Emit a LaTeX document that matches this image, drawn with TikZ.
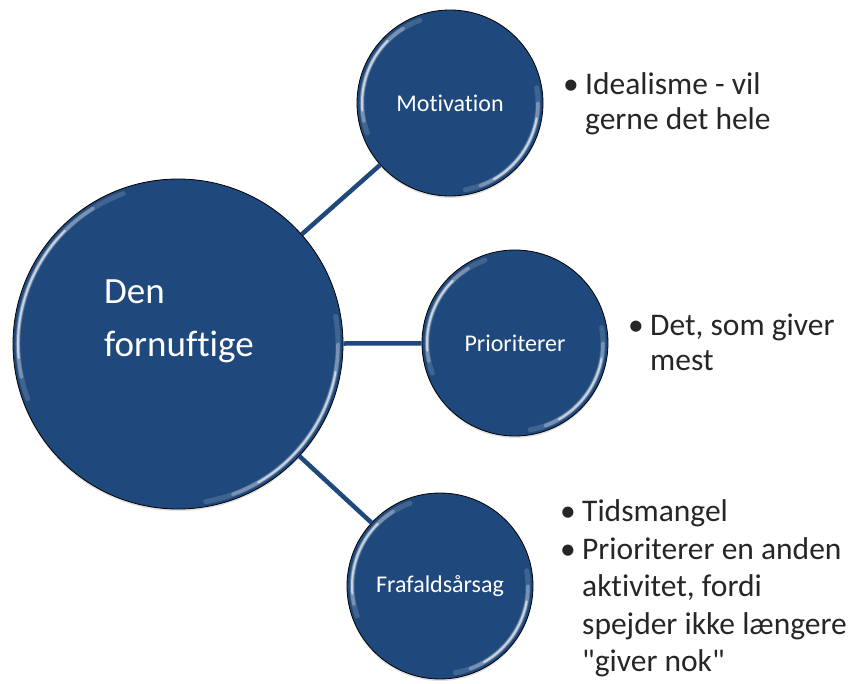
\documentclass[tikz,border=0pt]{standalone}
\usepackage{fontspec}
\setmainfont{Carlito}[Ligatures={TeXOff,NoCommon}]
\usetikzlibrary{shadows}

\definecolor{ballblue}{HTML}{1F497D}
\definecolor{punkttekst}{HTML}{262626}
\newlength\punkt
\setlength{\punkt}{22pt}

\tikzset{
  ball/.style={circle, draw=black, line width=0.8pt, fill=ballblue, text=white,
    inner sep=0pt, minimum size=#1,
    drop shadow={opacity=.25, shadow xshift=0pt, shadow yshift=-2pt}},
  glans/.style={white, line cap=round},
  eger/.style={ballblue, line width=4.5pt},
  punkter/.style={anchor=base west, inner sep=0pt, text=punkttekst},
  smalltext/.style={font=\fontsize{24}{29}\selectfont}
}

\begin{document}
\begin{tikzpicture}[x=1pt,y=1pt]
\useasboundingbox (0,0) rectangle (855,-684);

% circles
\node[ball=330pt] (den) at (178,-344) {};
\node[ball=186pt, smalltext] (motiv) at (450,-103) {Motivation};
\node[ball=186pt, smalltext] (prio) at (515,-343) {Prioriterer};
\node[ball=186pt, smalltext] (frafald) at (440,-586) {Frafaldsårsag};

% rim highlights
\foreach \n/\r in {den/160, motiv/88, prio/88, frafald/88} {
  \foreach \a/\b/\o/\w in {110/200/.15/5, 122/192/.3/3.5, 135/185/.6/2} {
    \draw[glans, opacity=\o, line width=\w pt] ([shift={(\a:\r pt)}]\n.center)
      arc[start angle=\a, end angle=\b, radius=\r pt];
  }
  \foreach \a/\b/\o/\w in {-80/10/.15/5, -70/0/.3/3.5, -60/-10/.6/2} {
    \draw[glans, opacity=\o, line width=\w pt] ([shift={(\a:\r pt)}]\n.center)
      arc[start angle=\a, end angle=\b, radius=\r pt];
  }
}

\node[anchor=base west, inner sep=0pt, text=white, font=\fontsize{37}{53}\selectfont]
  (dentekst) at (104,-304)
  {\begin{tabular}[t]{@{}l@{}}Den\\fornuftige\end{tabular}};

% spokes
\draw[eger] (den) -- (motiv);
\draw[eger] (den) -- (prio);
\draw[eger] (den) -- (frafald);

% bullet lists
\node[punkter, font=\fontsize{31.5}{35}\selectfont] (idealisme) at (563,-95)
  {\begin{tabular}[t]{@{}p{\punkt}@{}l@{}}
  \textbullet & Idealisme - vil\\
   & gerne det hele
  \end{tabular}};
\node[punkter, font=\fontsize{31.5}{35}\selectfont] (giver) at (628,-336)
  {\begin{tabular}[t]{@{}p{\punkt}@{}l@{}}
  \textbullet & Det, som giver\\
   & mest
  \end{tabular}};
\node[punkter, font=\fontsize{31.5}{37.5}\selectfont] (tid) at (560,-522)
  {\begin{tabular}[t]{@{}p{\punkt}@{}l@{}}
  \textbullet & Tidsmangel\\
  \textbullet & Prioriterer en anden\\
   & aktivitet, fordi\\
   & spejder ikke længere\\
   & "giver nok"
  \end{tabular}};
\end{tikzpicture}
\end{document}
